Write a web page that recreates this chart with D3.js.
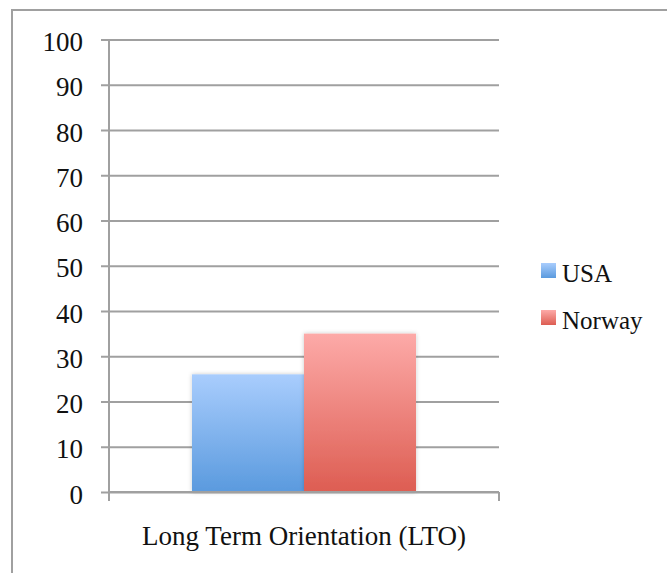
<!DOCTYPE html>
<html>
<head>
<meta charset="utf-8">
<script src="https://cdn.jsdelivr.net/npm/d3@7"></script>
<style>
  html, body { margin: 0; padding: 0; background: #fff; }
  svg { display: block; }
</style>
</head>
<body>
<script>
// Hofstede dimension: Long Term Orientation
const categories = ["Long Term Orientation (LTO)"];
const seriesNames = ["USA", "Norway"];
const usaValues = [26];
const norwayValues = [35];
const yTicks = [0, 10, 20, 30, 40, 50, 60, 70, 80, 90, 100];

const W = 667, H = 573;
const plot = { left: 109, right: 499, top: 39.5, bottom: 492 };
const FONT = "'Liberation Serif', 'DejaVu Serif', serif";
const GRID = "#a0a0a0";

const svg = d3.select("body").append("svg").attr("width", W).attr("height", H)
  .style("font-family", FONT);

const defs = svg.append("defs");
const grads = [
  { id: "g-usa", top: "#a9cdfd", bottom: "#5a9ade" },
  { id: "g-nor", top: "#fdaaa8", bottom: "#dd5d52" }
];
grads.forEach(g => {
  const lg = defs.append("linearGradient").attr("id", g.id)
    .attr("x1", 0).attr("y1", 0).attr("x2", 0).attr("y2", 1);
  lg.append("stop").attr("offset", "0%").attr("stop-color", g.top);
  lg.append("stop").attr("offset", "100%").attr("stop-color", g.bottom);
});
const shadow = defs.append("filter").attr("id", "shadow")
  .attr("x", "-10%").attr("y", "-10%").attr("width", "120%").attr("height", "120%");
shadow.append("feDropShadow").attr("dx", 0).attr("dy", 0)
  .attr("stdDeviation", 2).attr("flood-color", "#000").attr("flood-opacity", 0.22);

// outer frame
svg.append("rect").attr("x", 12).attr("y", 10).attr("width", W).attr("height", H)
  .attr("fill", "none").attr("stroke", GRID).attr("stroke-width", 2);

const y = d3.scaleLinear().domain([0, 100]).range([plot.bottom, plot.top]);
const x0 = d3.scaleBand().domain(categories).range([plot.left, plot.right])
  .paddingInner(0).paddingOuter(0.3705);
const x1 = d3.scaleBand().domain(seriesNames).range([0, x0.bandwidth()]);

// gridlines + y axis ticks
const yAxis = d3.axisLeft(y).tickValues(yTicks)
  .tickSize(-(plot.right - plot.left)).tickSizeOuter(0).tickPadding(26);
const gy = svg.append("g").attr("transform", `translate(${plot.left},0)`).call(yAxis)
  .attr("font-family", FONT).attr("font-size", 27);
gy.select(".domain").remove();
gy.selectAll(".tick line").attr("stroke", GRID).attr("stroke-width", 2).attr("x1", -8);
gy.selectAll(".tick text").attr("fill", "#111").attr("dy", "0.41em");

// y axis line
svg.append("line").attr("x1", plot.left).attr("x2", plot.left)
  .attr("y1", plot.top).attr("y2", plot.bottom)
  .attr("stroke", GRID).attr("stroke-width", 2);

// bars
const data = categories.map((c, i) => ({ cat: c, vals: [usaValues[i], norwayValues[i]] }));
const fills = ["url(#g-usa)", "url(#g-nor)"];
data.forEach(d => {
  const g = svg.append("g").attr("transform", `translate(${x0(d.cat)},0)`);
  g.selectAll("rect").data(d.vals).join("rect")
    .attr("x", (v, i) => x1(seriesNames[i]))
    .attr("width", x1.bandwidth())
    .attr("y", v => y(v))
    .attr("height", v => y(0) - y(v))
    .attr("fill", (v, i) => fills[i])
    .attr("filter", "url(#shadow)");
});

// x axis
const gx = svg.append("g").attr("transform", `translate(0,${plot.bottom})`);
gx.append("line").attr("x1", plot.left).attr("x2", plot.right).attr("y1", 0).attr("y2", 0)
  .attr("stroke", GRID).attr("stroke-width", 2);
[plot.left, plot.right].forEach(px => {
  gx.append("line").attr("x1", px).attr("x2", px).attr("y1", 0).attr("y2", 9)
    .attr("stroke", GRID).attr("stroke-width", 2);
});
gx.selectAll(".cat").data(categories).join("text").attr("class", "cat")
  .attr("x", d => x0(d) + x0.bandwidth() / 2)
  .attr("y", 53)
  .attr("text-anchor", "middle")
  .attr("font-size", 27)
  .attr("fill", "#111")
  .text(d => d);

// legend
const legend = svg.append("g");
seriesNames.forEach((s, i) => {
  const ly = 263 + i * 47;
  legend.append("rect").attr("x", 541).attr("y", ly).attr("width", 15).attr("height", 15)
    .attr("fill", fills[i]);
  legend.append("text").attr("x", 562).attr("y", ly + 19).attr("font-size", 25)
    .attr("fill", "#111").text(s);
});
</script>
</body>
</html>
